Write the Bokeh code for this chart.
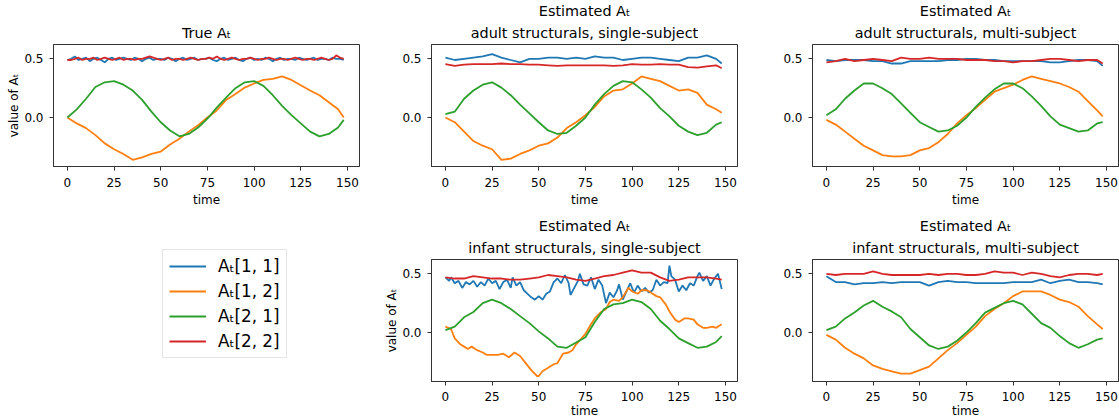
from bokeh.plotting import figure
from bokeh.models import Range1d, FixedTicker, PrintfTickFormatter, Legend, LegendItem, Title, Spacer
from bokeh.layouts import row, column
from bokeh.embed import file_html
from bokeh.resources import INLINE

# ---------------- data ----------------
series_labels = ["Aₜ[1, 1]", "Aₜ[1, 2]", "Aₜ[2, 1]", "Aₜ[2, 2]"]
x_ticks = [0, 25, 50, 75, 100, 125, 150]
y_ticks = [0.0, 0.5]

t5 = [0, 5, 10, 15, 20, 25, 30, 35, 40, 45, 50, 55, 60, 65, 70, 75, 80, 85, 90, 95,
      100, 105, 110, 115, 120, 125, 130, 135, 140, 145, 148]
t2 = list(range(0, 149, 2))

# True A_t
true_11 = [0.49, 0.50, 0.52, 0.49, 0.50, 0.51, 0.48, 0.50, 0.51, 0.49,
           0.47, 0.50, 0.51, 0.49, 0.50, 0.51, 0.50, 0.49, 0.51, 0.50,
           0.48, 0.50, 0.51, 0.49, 0.50, 0.50, 0.49, 0.51, 0.50, 0.48,
           0.50, 0.51, 0.49, 0.50, 0.51, 0.49, 0.50, 0.50, 0.51, 0.49,
           0.48, 0.50, 0.51, 0.49, 0.50, 0.51, 0.49, 0.48, 0.50, 0.51,
           0.49, 0.50, 0.49, 0.51, 0.50, 0.48, 0.50, 0.51, 0.49, 0.50,
           0.50, 0.49, 0.51, 0.50, 0.49, 0.50, 0.51, 0.49, 0.50, 0.50,
           0.49, 0.51, 0.50, 0.50, 0.49]
true_12 = [0.0, -0.05, -0.09, -0.15, -0.22, -0.27, -0.31, -0.36, -0.34, -0.31,
           -0.29, -0.23, -0.18, -0.12, -0.065, 0.0, 0.06, 0.15, 0.20, 0.255,
           0.29, 0.32, 0.33, 0.35, 0.32, 0.275, 0.23, 0.19, 0.13, 0.07, 0.0]
true_21 = [0.0, 0.07, 0.16, 0.26, 0.30, 0.31, 0.28, 0.23, 0.15, 0.05,
           -0.04, -0.11, -0.16, -0.14, -0.085, -0.01, 0.085, 0.17, 0.25, 0.30,
           0.31, 0.27, 0.19, 0.10, 0.02, -0.05, -0.12, -0.16, -0.14, -0.085, -0.02]
true_22 = [0.49, 0.49, 0.50, 0.51, 0.49, 0.50, 0.50, 0.51, 0.49, 0.50,
           0.51, 0.50, 0.49, 0.50, 0.51, 0.49, 0.50, 0.50, 0.49, 0.50,
           0.50, 0.51, 0.52, 0.51, 0.50, 0.49, 0.50, 0.51, 0.49, 0.50,
           0.50, 0.49, 0.50, 0.51, 0.50, 0.49, 0.50, 0.50, 0.51, 0.50,
           0.52, 0.50, 0.49, 0.50, 0.51, 0.50, 0.49, 0.50, 0.50, 0.51,
           0.50, 0.49, 0.50, 0.50, 0.51, 0.50, 0.49, 0.50, 0.50, 0.49,
           0.50, 0.51, 0.50, 0.49, 0.50, 0.50, 0.49, 0.50, 0.51, 0.50,
           0.49, 0.50, 0.53, 0.51, 0.50]

# adult structurals, single-subject
as_11 = [0.51, 0.49, 0.50, 0.51, 0.52, 0.54, 0.51, 0.49, 0.47, 0.50,
         0.50, 0.51, 0.51, 0.50, 0.51, 0.50, 0.52, 0.51, 0.51, 0.49,
         0.50, 0.51, 0.51, 0.50, 0.49, 0.48, 0.51, 0.51, 0.53, 0.50, 0.46]
as_12 = [0.0, -0.04, -0.12, -0.20, -0.24, -0.27, -0.36, -0.35, -0.31, -0.28,
         -0.24, -0.22, -0.17, -0.09, -0.04, 0.02, 0.09, 0.18, 0.23, 0.24,
         0.29, 0.35, 0.33, 0.31, 0.27, 0.23, 0.24, 0.21, 0.11, 0.07, 0.04]
as_21 = [0.03, 0.05, 0.16, 0.23, 0.28, 0.30, 0.255, 0.19, 0.11, 0.035,
         -0.04, -0.11, -0.14, -0.13, -0.07, 0.0, 0.11, 0.20, 0.27, 0.31,
         0.30, 0.24, 0.17, 0.08, 0.01, -0.07, -0.12, -0.15, -0.13, -0.06, -0.04]
as_22 = [0.455, 0.44, 0.45, 0.455, 0.455, 0.455, 0.46, 0.455, 0.455, 0.45,
         0.45, 0.445, 0.44, 0.445, 0.445, 0.445, 0.445, 0.445, 0.44, 0.445,
         0.455, 0.45, 0.45, 0.455, 0.45, 0.45, 0.43, 0.425, 0.435, 0.445, 0.42]

# adult structurals, multi-subject
am_11 = [0.49, 0.48, 0.49, 0.49, 0.49, 0.48, 0.48, 0.46, 0.46, 0.48,
         0.48, 0.48, 0.48, 0.49, 0.49, 0.50, 0.50, 0.49, 0.49, 0.48,
         0.48, 0.48, 0.48, 0.48, 0.47, 0.47, 0.48, 0.49, 0.49, 0.48, 0.44]
am_12 = [-0.02, -0.06, -0.12, -0.18, -0.24, -0.28, -0.32, -0.33, -0.33, -0.32,
         -0.28, -0.26, -0.21, -0.14, -0.05, 0.02, 0.08, 0.15, 0.22, 0.25,
         0.28, 0.32, 0.35, 0.33, 0.31, 0.29, 0.26, 0.22, 0.14, 0.06, 0.01]
am_21 = [0.02, 0.07, 0.16, 0.23, 0.29, 0.29, 0.25, 0.20, 0.12, 0.04,
         -0.04, -0.08, -0.12, -0.11, -0.07, 0.0, 0.09, 0.17, 0.24, 0.29,
         0.29, 0.25, 0.18, 0.10, 0.01, -0.06, -0.09, -0.12, -0.11, -0.05, -0.04]
am_22 = [0.47, 0.48, 0.50, 0.48, 0.49, 0.50, 0.49, 0.48, 0.51, 0.50,
         0.50, 0.51, 0.50, 0.50, 0.50, 0.49, 0.49, 0.49, 0.48, 0.48,
         0.47, 0.48, 0.48, 0.49, 0.50, 0.50, 0.49, 0.48, 0.49, 0.49, 0.46]

# infant structurals, single-subject
t_is_11 = [0, 2, 3, 5, 7, 9, 11, 13, 15, 17, 19, 21, 23, 25, 27, 29, 31, 33, 35, 36,
           38, 40, 42, 44, 46, 48, 50, 52, 54, 56, 58, 60, 62, 64, 66, 67, 69, 71, 72, 74,
           76, 78, 80, 82, 84, 86, 88, 90, 92, 93, 95, 97, 99, 101, 103, 105, 107, 109, 111, 113,
           115, 117, 119, 120, 121, 123, 125, 127, 129, 131, 133, 135, 136, 138, 140, 142, 144, 146, 148]
is_11 = [0.47, 0.44, 0.47, 0.42, 0.44, 0.38, 0.43, 0.41, 0.44, 0.39,
         0.43, 0.40, 0.46, 0.42, 0.44, 0.37, 0.43, 0.45, 0.38, 0.47,
         0.40, 0.43, 0.36, 0.33, 0.30, 0.28, 0.31, 0.28, 0.33, 0.35,
         0.43, 0.46, 0.42, 0.49, 0.42, 0.32, 0.38, 0.44, 0.50, 0.41,
         0.40, 0.47, 0.37, 0.45, 0.40, 0.25, 0.34, 0.30, 0.36, 0.41,
         0.28, 0.35, 0.42, 0.34, 0.40, 0.35, 0.38, 0.34, 0.36, 0.45,
         0.40, 0.43, 0.42, 0.57, 0.48, 0.45, 0.35, 0.40, 0.36, 0.42,
         0.40, 0.48, 0.51, 0.44, 0.48, 0.40, 0.46, 0.50, 0.37]
t_is_12 = [0, 3, 5, 8, 10, 12, 14, 17, 20, 22, 25, 28, 31, 34, 37, 40, 43, 46, 49, 50,
           52, 55, 58, 60, 63, 66, 68, 70, 73, 75, 78, 80, 83, 86, 88, 90, 93, 95, 98, 100,
           103, 105, 108, 110, 113, 115, 118, 120, 123, 125, 128, 130, 133, 135, 138, 140, 143, 145, 148]
is_12 = [0.05, 0.03, -0.05, -0.10, -0.12, -0.14, -0.12, -0.15, -0.17, -0.19,
         -0.19, -0.19, -0.18, -0.21, -0.17, -0.20, -0.26, -0.32, -0.37, -0.37,
         -0.33, -0.30, -0.27, -0.26, -0.18, -0.17, -0.15, -0.10, -0.05, -0.01,
         0.07, 0.12, 0.17, 0.20, 0.26, 0.28, 0.27, 0.30, 0.38, 0.35,
         0.33, 0.36, 0.36, 0.34, 0.31, 0.30, 0.24, 0.18, 0.11, 0.09,
         0.12, 0.12, 0.11, 0.07, 0.04, 0.04, 0.05, 0.04, 0.07]
is_21 = [0.02, 0.05, 0.13, 0.175, 0.25, 0.28, 0.25, 0.20, 0.14, 0.08,
         0.01, -0.05, -0.12, -0.13, -0.085, -0.04, 0.09, 0.20, 0.24, 0.25,
         0.28, 0.26, 0.20, 0.10, 0.03, -0.05, -0.09, -0.13, -0.12, -0.08, -0.03]
is_22 = [0.47, 0.46, 0.46, 0.48, 0.47, 0.46, 0.46, 0.45, 0.45, 0.46,
         0.47, 0.49, 0.48, 0.47, 0.45, 0.44, 0.46, 0.48, 0.49, 0.51,
         0.53, 0.51, 0.51, 0.47, 0.44, 0.45, 0.47, 0.47, 0.47, 0.46, 0.45]

# infant structurals, multi-subject
im_11 = [0.48, 0.43, 0.43, 0.41, 0.42, 0.42, 0.43, 0.42, 0.43, 0.43,
         0.43, 0.40, 0.43, 0.44, 0.43, 0.43, 0.42, 0.42, 0.42, 0.42,
         0.43, 0.43, 0.43, 0.45, 0.42, 0.44, 0.45, 0.43, 0.43, 0.42, 0.41]
im_12 = [-0.02, -0.06, -0.13, -0.18, -0.22, -0.28, -0.31, -0.33, -0.35, -0.35,
         -0.32, -0.29, -0.22, -0.15, -0.09, -0.02, 0.05, 0.14, 0.20, 0.25,
         0.31, 0.35, 0.35, 0.35, 0.32, 0.28, 0.26, 0.22, 0.14, 0.07, 0.03]
im_21 = [0.02, 0.05, 0.12, 0.17, 0.23, 0.27, 0.22, 0.18, 0.13, 0.03,
         -0.04, -0.11, -0.14, -0.12, -0.07, 0.0, 0.08, 0.17, 0.21, 0.25,
         0.27, 0.24, 0.16, 0.08, 0.04, -0.03, -0.09, -0.13, -0.10, -0.06, -0.05]
im_22 = [0.50, 0.49, 0.50, 0.50, 0.50, 0.52, 0.50, 0.49, 0.49, 0.49,
         0.49, 0.50, 0.49, 0.50, 0.50, 0.49, 0.49, 0.50, 0.52, 0.51,
         0.51, 0.49, 0.51, 0.50, 0.48, 0.47, 0.49, 0.50, 0.50, 0.49, 0.50]

# ---------------- styling ----------------
FONT = "DejaVu Sans"
COLORS = ["#1f77b4", "#ff7f0e", "#2ca02c", "#d62728"]
SPINE = "#333333"
FW, FH = 306, 122
LW = 1.8


def panel(title_lines, ylabel, lb, rb, bb, series, xl_std=(7, 3)):
    p = figure(frame_width=FW, frame_height=FH, title=None,
               x_range=Range1d(-7.45, 156.45), y_range=Range1d(-0.417, 0.622),
               output_backend="svg", toolbar_location=None,
               min_border_left=lb, min_border_right=rb,
               min_border_top=0, min_border_bottom=bb)
    for k, line in enumerate(reversed(title_lines)):
        p.add_layout(Title(text=line, align="center", text_font=FONT,
                           text_font_size="14.4px", text_font_style="normal",
                           text_color="black", standoff=(7 if k == 0 else 1)), "above")
    for (xs, ys), c in zip(series, COLORS):
        p.line(xs, ys, line_color=c, line_width=LW)
    p.xgrid.grid_line_color = None
    p.ygrid.grid_line_color = None
    p.outline_line_color = SPINE
    p.outline_line_width = 1
    p.xaxis.ticker = FixedTicker(ticks=x_ticks)
    p.yaxis.ticker = FixedTicker(ticks=y_ticks)
    p.yaxis.formatter = PrintfTickFormatter(format="%.1f")
    for ax in (p.xaxis, p.yaxis):
        ax.axis_line_color = SPINE
        ax.major_tick_line_color = SPINE
        ax.major_tick_in = 0
        ax.major_tick_out = 4
        ax.minor_tick_line_color = None
        ax.major_label_text_font = FONT
        ax.major_label_text_font_size = "12px"
        ax.major_label_text_color = "black"
        ax.axis_label_text_font = FONT
        ax.axis_label_text_font_size = "12px"
        ax.axis_label_text_font_style = "normal"
        ax.axis_label_text_color = "black"
    p.xaxis.major_label_standoff = xl_std[0]
    p.xaxis.axis_label_standoff = xl_std[1]
    p.yaxis.major_label_standoff = 6
    p.yaxis.axis_label_standoff = 0
    p.xaxis.axis_label = "time"
    if ylabel:
        p.yaxis.axis_label = "value of Aₜ"
    return p


B1a, B1 = 57, 49
L1, R1 = 43, 23
L2, R2 = 43, 43
L3, R3 = 32, 1

f1 = panel([" ", "True Aₜ"], True, L1, R1, B1a,
           [(t2, true_11), (t5, true_12), (t5, true_21), (t2, true_22)])
f2 = panel(["Estimated Aₜ", "adult structurals, single-subject"], False, L2, R2, B1,
           [(t5, as_11), (t5, as_12), (t5, as_21), (t5, as_22)])
f3 = panel(["Estimated Aₜ", "adult structurals, multi-subject"], False, L3, R3, B1,
           [(t5, am_11), (t5, am_12), (t5, am_21), (t5, am_22)])
f4 = panel(["Estimated Aₜ", "infant structurals, single-subject"], True, L2, R2, 0,
           [(t_is_11, is_11), (t_is_12, is_12), (t5, is_21), (t5, is_22)], xl_std=(6, 0))
f5 = panel(["Estimated Aₜ", "infant structurals, multi-subject"], False, L3, R3, 0,
           [(t5, im_11), (t5, im_12), (t5, im_21), (t5, im_22)], xl_std=(6, 0))

# legend panel: the empty axes slot in the bottom-left
leg = figure(frame_width=FW, frame_height=160, title=None,
             x_range=Range1d(1000, 1001), y_range=Range1d(0, 1),
             output_backend="svg", toolbar_location=None,
             min_border_left=L1, min_border_top=0, min_border_right=R1, min_border_bottom=0,
             x_axis_location=None, y_axis_location=None)
leg.outline_line_color = None
leg.xgrid.grid_line_color = None
leg.ygrid.grid_line_color = None
rends = [leg.line(t5, ys, line_color=c, line_width=LW)
         for ys, c in zip([as_11, as_12, as_21, as_22], COLORS)]
legend = Legend(items=[LegendItem(label=lab, renderers=[r]) for lab, r in zip(series_labels, rends)],
                location=(109, 25), orientation="vertical",
                label_text_font=FONT, label_text_font_size="16.8px", label_text_color="black",
                glyph_width=37, glyph_height=20, label_height=20, label_standoff=12,
                spacing=5, padding=6, margin=0,
                border_line_color="#cccccc", border_line_width=1,
                background_fill_color="white", background_fill_alpha=0.8)
leg.add_layout(legend, "center")

layout = row(Spacer(width=4), column(f1, leg), column(f2, f4), column(f3, f5))
open("out.html", "w").write(file_html(layout, INLINE))
